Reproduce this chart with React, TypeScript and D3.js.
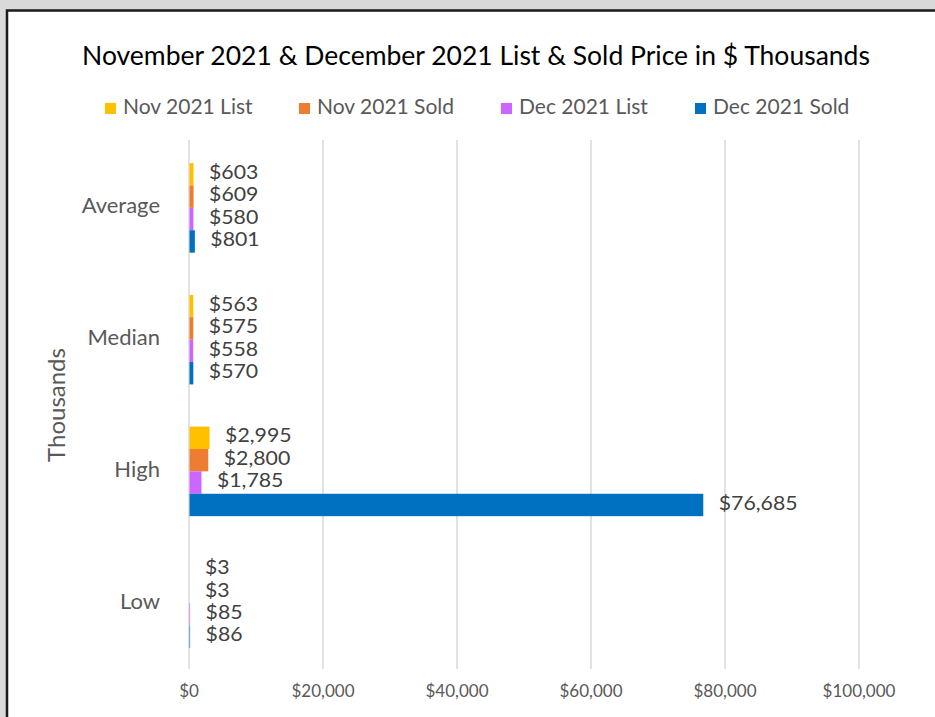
import React from "react";
import * as d3 from "d3";

const categories = ["Average", "Median", "High", "Low"];
const seriesNames = ["Nov 2021 List", "Nov 2021 Sold", "Dec 2021 List", "Dec 2021 Sold"];
const seriesColors = ["#FFC000", "#ED7D31", "#CC66FF", "#0070C0"];
const nov2021List = [603, 563, 2995, 3];
const nov2021Sold = [609, 575, 2800, 3];
const dec2021List = [580, 558, 1785, 85];
const dec2021Sold = [801, 570, 76685, 86];
const xTicks = [0, 20000, 40000, 60000, 80000, 100000];

const seriesValues = [nov2021List, nov2021Sold, dec2021List, dec2021Sold];

const W = 935;
const H = 717;
const FONT = "Lato, 'Open Sans', sans-serif";

export default function App() {
  const x = d3.scaleLinear().domain([0, 100000]).range([189, 859]);
  const y = d3
    .scaleBand<string>()
    .domain(categories)
    .range([142, 669])
    .paddingInner(0.32)
    .paddingOuter(0.16);
  const inner = d3
    .scaleBand<string>()
    .domain(seriesNames)
    .range([0, y.bandwidth()]);
  const fmt = (v: number) => "$" + d3.format(",")(v);

  const legendX = [105, 299, 501, 695];

  return (
    <svg
      width={W}
      height={H}
      style={{ position: "fixed", left: 0, top: 0, display: "block" }}
      fontFamily={FONT}
    >
      <rect x={0} y={0} width={W} height={H} fill="#d9d9d9" />
      <rect x={7} y={10.5} width={W + 10} height={H + 10} fill="#ffffff" stroke="#1a1a1a" strokeWidth={2.5} />

      <text x={476} y={58} textAnchor="middle" dominantBaseline="middle" fontSize={26.5} fill="#000">
        November 2021 &amp; December 2021 List &amp; Sold Price in $ Thousands
      </text>

      {seriesNames.map((s, i) => (
        <g key={s}>
          <rect x={legendX[i]} y={103} width={11} height={11} fill={seriesColors[i]} />
          <text x={legendX[i] + 18} y={109} dominantBaseline="middle" fontSize={21} fill="#595959">
            {s}
          </text>
        </g>
      ))}

      {xTicks.map((t) => (
        <g key={t}>
          <line x1={x(t)} x2={x(t)} y1={140} y2={669} stroke="#d9d9d9" strokeWidth={1.5} />
          <text x={x(t)} y={693} textAnchor="middle" dominantBaseline="middle" fontSize={17} fill="#595959">
            {fmt(t)}
          </text>
        </g>
      ))}

      {categories.map((c) => (
        <text
          key={c}
          x={160}
          y={(y(c) as number) + y.bandwidth() / 2}
          textAnchor="end"
          dominantBaseline="middle"
          fontSize={22}
          fill="#595959"
        >
          {c}
        </text>
      ))}

      <text
        transform="translate(59,405) rotate(-90)"
        textAnchor="middle"
        dominantBaseline="middle"
        fontSize={24}
        fill="#595959"
      >
        Thousands
      </text>

      {seriesNames.map((s, si) =>
        categories.map((c, ci) => {
          const v = seriesValues[si][ci];
          const y0 = (y(c) as number) + (inner(s) as number);
          const cy = y0 + inner.bandwidth() / 2;
          return (
            <g key={s + c}>
              <rect
                x={x(0) + 0.5}
                y={y0}
                width={Math.max(0, x(v) - x(0))}
                height={inner.bandwidth()}
                fill={seriesColors[si]}
              />
              <text
                transform={`translate(${x(v) + 16},${cy}) scale(1.15,1)`}
                dominantBaseline="middle"
                fontSize={18.5}
                fill="#404040"
              >
                {fmt(v)}
              </text>
            </g>
          );
        })
      )}
    </svg>
  );
}
